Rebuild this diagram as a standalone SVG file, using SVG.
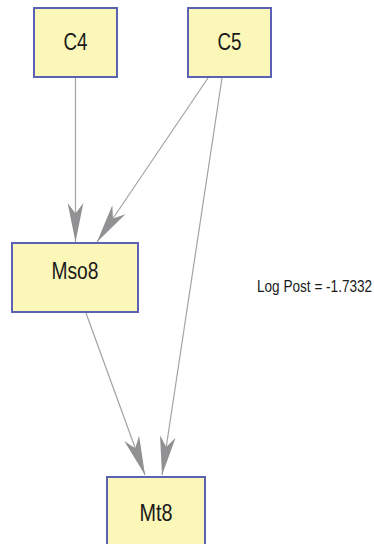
<svg xmlns="http://www.w3.org/2000/svg" width="374" height="544" viewBox="0 0 374 544">
<style>
.box{fill:#fbf7b9;stroke:#5b61b3;stroke-width:2}
.lbl{font-family:"Liberation Sans",Arial,sans-serif;font-size:23px;fill:#1a1a1a;text-anchor:middle}
.edge{stroke:#a3a3a3;stroke-width:1.2;fill:none;marker-end:url(#arr)}
.elbl{font-family:"Liberation Sans",Arial,sans-serif;font-size:13.6px;fill:#1a1a1a}
</style>
<defs>
<marker id="arr" markerUnits="userSpaceOnUse" markerWidth="40" markerHeight="20" viewBox="0 -8 38 16" refX="37" refY="0" orient="auto">
<path d="M37,0 L0,-7.5 L10,0 L0,7.5 Z" fill="#919193"/>
</marker>
</defs>
<rect width="374" height="544" fill="#ffffff"/>
<g id="connectors">
<line class="edge" x1="75.5" y1="77" x2="75.5" y2="242"/>
<line class="edge" x1="208" y1="78" x2="97" y2="242"/>
<line class="edge" x1="222" y1="78" x2="162" y2="475"/>
<line class="edge" x1="86" y1="313" x2="145" y2="475"/>
<text class="elbl" transform="translate(257,292) scale(1,1.25)" x="0" y="0">Log Post = -1.7332</text>
</g>
<g id="C4">
<rect class="box" x="34" y="8" width="83" height="69"/>
<text class="lbl" x="75.5" y="50" textLength="24" lengthAdjust="spacingAndGlyphs">C4</text>
</g>
<g id="C5">
<rect class="box" x="188" y="8" width="83" height="69"/>
<text class="lbl" x="229.5" y="50" textLength="24" lengthAdjust="spacingAndGlyphs">C5</text>
</g>
<g id="Mso8">
<rect class="box" x="12" y="243" width="126" height="69"/>
<text class="lbl" x="75" y="279" textLength="47" lengthAdjust="spacingAndGlyphs">Mso8</text>
</g>
<g id="Mt8">
<rect class="box" x="107" y="477" width="98" height="72"/>
<text class="lbl" x="156" y="521" textLength="33" lengthAdjust="spacingAndGlyphs">Mt8</text>
</g>
</svg>
